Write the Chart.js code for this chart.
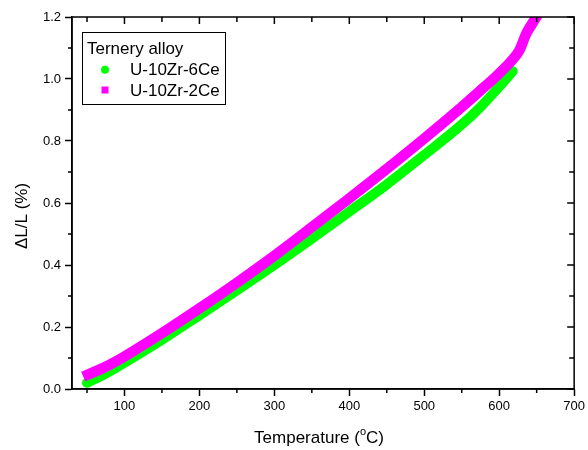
<!DOCTYPE html>
<html>
<head>
<meta charset="utf-8">
<script src="https://cdn.jsdelivr.net/npm/chart.js@4.4.1/dist/chart.umd.min.js"></script>
<style>
  html, body { margin: 0; padding: 0; background: #fff; }
  #wrap { width: 588px; height: 450px; }
</style>
</head>
<body>
<div id="wrap"><canvas id="dil-chart" width="588" height="450"></canvas></div>
<script>
// data
const legendTitle = 'Ternery alloy';
const labels6Ce = 'U-10Zr-6Ce';
const labels2Ce = 'U-10Zr-2Ce';

const temp6Ce = [50, 75, 100, 150, 200, 250, 300, 350, 400, 450, 500, 550, 575, 600, 618];
const dl6Ce   = [0.02, 0.05, 0.085, 0.159, 0.238, 0.318, 0.40, 0.485, 0.572, 0.66, 0.755, 0.853, 0.91, 0.975, 1.025];

const temp2Ce = [45, 75, 100, 150, 200, 250, 300, 350, 400, 450, 500, 550, 575, 600, 615, 627, 636, 647, 660];
const dl2Ce   = [0.04, 0.072, 0.105, 0.18, 0.26, 0.343, 0.43, 0.522, 0.615, 0.71, 0.808, 0.91, 0.963, 1.018, 1.055, 1.093, 1.146, 1.19, 1.24];

const xTicks = [100, 200, 300, 400, 500, 600, 700];
const xMinor = [50, 150, 250, 350, 450, 550, 650];
const yTicks = [0, 0.2, 0.4, 0.6, 0.8, 1.0, 1.2];
const yMinor = [0.1, 0.3, 0.5, 0.7, 0.9, 1.1];

const FONT = '"Liberation Sans", Arial, sans-serif';

function pairs(xs, ys) {
    return xs.map((x, i) => ({ x: x, y: ys[i] }));
}

// frame, minor ticks, mirrored ticks, titles, legend
const decor = {
    id: 'decor',
    afterDraw(chart) {
        const ctx = chart.ctx;
        const a = chart.chartArea;
        const xs = chart.scales.x;
        const ys = chart.scales.y;
        ctx.save();
        ctx.strokeStyle = '#000';
        ctx.lineWidth = 1.5;
        ctx.strokeRect(a.left, a.top, a.right - a.left, a.bottom - a.top);

        ctx.beginPath();
        xMinor.forEach(v => {
            const p = xs.getPixelForValue(v);
            ctx.moveTo(p, a.bottom); ctx.lineTo(p, a.bottom + 4);
            ctx.moveTo(p, a.top); ctx.lineTo(p, a.top + 5);
        });
        xTicks.forEach(v => {
            const p = xs.getPixelForValue(v);
            ctx.moveTo(p, a.top); ctx.lineTo(p, a.top + 7);
        });
        yMinor.forEach(v => {
            const p = ys.getPixelForValue(v);
            ctx.moveTo(a.left, p); ctx.lineTo(a.left - 4, p);
            ctx.moveTo(a.right, p); ctx.lineTo(a.right - 5, p);
        });
        yTicks.forEach(v => {
            const p = ys.getPixelForValue(v);
            ctx.moveTo(a.right, p); ctx.lineTo(a.right - 7, p);
        });
        ctx.stroke();

        // axis titles
        ctx.fillStyle = '#000';
        ctx.textBaseline = 'alphabetic';
        ctx.font = '17px ' + FONT;
        const t1 = 'Temperature (', t3 = 'C)';
        const w1 = ctx.measureText(t1).width;
        const w3 = ctx.measureText(t3).width;
        ctx.font = '11px ' + FONT;
        const w2 = ctx.measureText('o').width;
        let x0 = 319 - (w1 + w2 + w3) / 2;
        ctx.font = '17px ' + FONT;
        ctx.textAlign = 'left';
        ctx.fillText(t1, x0, 443);
        ctx.font = '11px ' + FONT;
        ctx.fillText('o', x0 + w1, 435);
        ctx.font = '17px ' + FONT;
        ctx.fillText(t3, x0 + w1 + w2, 443);

        ctx.save();
        ctx.translate(27, 216);
        ctx.rotate(-Math.PI / 2);
        ctx.textAlign = 'center';
        ctx.fillText('\u0394L/L (%)', 0, 0);
        ctx.restore();

        // legend
        ctx.lineWidth = 1;
        ctx.strokeRect(82.5, 32.5, 143, 72);
        ctx.font = '17px ' + FONT;
        ctx.textAlign = 'left';
        ctx.fillText(legendTitle, 87, 54);
        const ds = chart.data.datasets;
        ctx.fillStyle = ds[0].borderColor;
        ctx.beginPath();
        ctx.arc(105, 69.7, 4, 0, Math.PI * 2);
        ctx.fill();
        ctx.fillStyle = ds[1].borderColor;
        ctx.fillRect(101.5, 86.5, 7, 7);
        ctx.fillStyle = '#000';
        ctx.fillText(ds[0].label, 130, 75);
        ctx.fillText(ds[1].label, 130, 96);
        ctx.restore();
    }
};

function createChart() {
    const ctx = document.getElementById('dil-chart').getContext('2d');
    new Chart(ctx, {
        type: 'line',
        data: {
            datasets: [{
                label: labels6Ce,
                data: pairs(temp6Ce, dl6Ce),
                borderColor: '#00ff00',
                borderWidth: 10,
                borderCapStyle: 'round',
                borderJoinStyle: 'round',
                pointRadius: 0,
                cubicInterpolationMode: 'monotone',
                order: 1,
                clip: 0
            }, {
                label: labels2Ce,
                data: pairs(temp2Ce, dl2Ce),
                borderColor: '#ff00ff',
                borderWidth: 10.5,
                borderCapStyle: 'butt',
                borderJoinStyle: 'round',
                pointRadius: 0,
                cubicInterpolationMode: 'monotone',
                order: 0,
                clip: 0
            }]
        },
        options: {
            responsive: false,
            animation: false,
            events: [],
            layout: { padding: { top: 17, right: 13, left: 0, bottom: 0 } },
            plugins: {
                legend: { display: false },
                tooltip: { enabled: false }
            },
            scales: {
                x: {
                    type: 'linear',
                    min: 30,
                    max: 700,
                    afterBuildTicks: s => { s.ticks = xTicks.map(v => ({ value: v })); },
                    afterFit: s => { s.height = 61; },
                    ticks: {
                        color: '#000',
                        font: { family: FONT, size: 13 },
                        padding: 3,
                        maxRotation: 0
                    },
                    grid: {
                        drawOnChartArea: false,
                        tickLength: 7,
                        tickColor: '#000',
                        tickWidth: 1.5
                    },
                    border: { color: '#000', width: 1.5 }
                },
                y: {
                    type: 'linear',
                    min: 0,
                    max: 1.2,
                    afterBuildTicks: s => { s.ticks = yTicks.map(v => ({ value: v })); },
                    afterFit: s => { s.width = 72; },
                    ticks: {
                        color: '#000',
                        font: { family: FONT, size: 13 },
                        padding: 4,
                        callback: v => v.toFixed(1)
                    },
                    grid: {
                        drawOnChartArea: false,
                        tickLength: 7,
                        tickColor: '#000',
                        tickWidth: 1.5
                    },
                    border: { color: '#000', width: 1.5 }
                }
            }
        },
        plugins: [decor]
    });
}

document.addEventListener('DOMContentLoaded', createChart);
</script>
</body>
</html>
